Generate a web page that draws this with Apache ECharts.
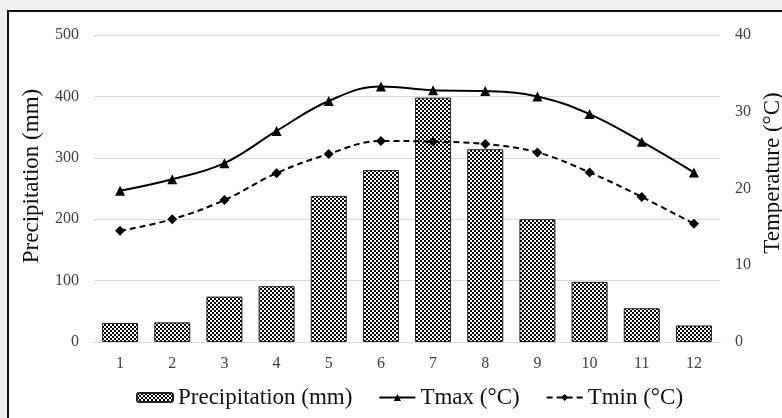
<!DOCTYPE html>
<html lang="en">
<head>
    <meta charset="UTF-8">
    <title>climate</title>
    <script src="https://cdn.jsdelivr.net/npm/echarts@6/dist/echarts.min.js"></script>
    <style>
        html, body { margin: 0; width: 782px; height: 418px; overflow: hidden; background: #f0f0f0; }
        #frame { position: absolute; left: 7px; top: 10px; width: 800px; height: 440px;
                 background: #fff; border: 2px solid #111; }
        #chart { position: absolute; left: 0; top: 0; width: 782px; height: 418px; }
    </style>
</head>
<body>
<div id="frame"></div>
<div id="chart"></div>
<script type="text/javascript">
    var months = ['1', '2', '3', '4', '5', '6', '7', '8', '9', '10', '11', '12'];
    var precip = [31, 32, 74, 91, 238, 280, 398, 314, 200, 98, 55, 27];
    var tmax = [19.7, 21.2, 23.3, 27.5, 31.4, 33.3, 32.8, 32.7, 32.0, 29.7, 26.1, 22.1];
    var tmin = [14.5, 16.0, 18.5, 22.0, 24.5, 26.2, 26.1, 25.8, 24.7, 22.1, 18.9, 15.4];

    // checker fill for the bars
    var cv = document.createElement('canvas');
    cv.width = 4; cv.height = 4;
    var cx = cv.getContext('2d');
    cx.fillStyle = '#fff';
    cx.fillRect(0, 0, 4, 4);
    cx.fillStyle = '#000';
    cx.fillRect(0, 0, 2, 2);
    cx.fillRect(2, 2, 2, 2);
    var checker = { image: cv, repeat: 'repeat' };

    var font = 'Liberation Serif';
    var myChart = echarts.init(document.getElementById('chart'));
    var option = {
        animation: false,
        textStyle: { fontFamily: font },
        grid: { left: 94, right: 62, top: 35, bottom: 76 },
        legend: {
            left: 131,
            top: 381,
            itemWidth: 36,
            itemHeight: 9,
            itemGap: 26,
            textStyle: { fontFamily: font, fontSize: 23, color: '#111' },
            data: ['Precipitation (mm)', 'Tmax (°C)', 'Tmin (°C)']
        },
        graphic: [
            {
                type: 'text', x: 32, y: 176, rotation: Math.PI / 2,
                style: { text: 'Precipitation (mm)', fontFamily: font, fontSize: 23, fill: '#111',
                    textAlign: 'center', textVerticalAlign: 'middle' }
            },
            {
                type: 'text', x: 773, y: 173, rotation: Math.PI / 2,
                style: { text: 'Temperature (°C)', fontFamily: font, fontSize: 23, fill: '#111',
                    textAlign: 'center', textVerticalAlign: 'middle' }
            }
        ],
        xAxis: {
            type: 'category',
            data: months,
            axisTick: { show: false },
            axisLine: { lineStyle: { color: '#d9d9d9', width: 1 } },
            axisLabel: { color: '#404040', fontSize: 16, margin: 14 }
        },
        yAxis: [
            {
                type: 'value', min: 0, max: 500, interval: 100,
                axisLine: { show: false },
                axisTick: { show: false },
                axisLabel: { color: '#404040', fontSize: 16, margin: 15 },
                splitLine: { lineStyle: { color: '#d9d9d9' } }
            },
            {
                type: 'value', min: 0, max: 40, interval: 10,
                axisLine: { show: false },
                axisTick: { show: false },
                axisLabel: { color: '#404040', fontSize: 16, margin: 15 },
                splitLine: { show: false }
            }
        ],
        series: [
            {
                name: 'Precipitation (mm)',
                type: 'bar',
                barWidth: 36,
                data: precip,
                itemStyle: { color: checker, borderColor: '#222', borderWidth: 1 }
            },
            {
                name: 'Tmax (°C)',
                type: 'line',
                yAxisIndex: 1,
                smooth: 0.4,
                data: tmax,
                symbol: 'triangle',
                symbolSize: 10,
                itemStyle: { color: '#000' },
                lineStyle: { color: '#000', width: 2 }
            },
            {
                name: 'Tmin (°C)',
                type: 'line',
                yAxisIndex: 1,
                smooth: 0.4,
                data: tmin,
                symbol: 'diamond',
                symbolSize: 10,
                itemStyle: { color: '#000' },
                lineStyle: { color: '#000', width: 2, type: [6, 4] }
            }
        ]
    };
    myChart.setOption(option);
</script>
</body>
</html>
